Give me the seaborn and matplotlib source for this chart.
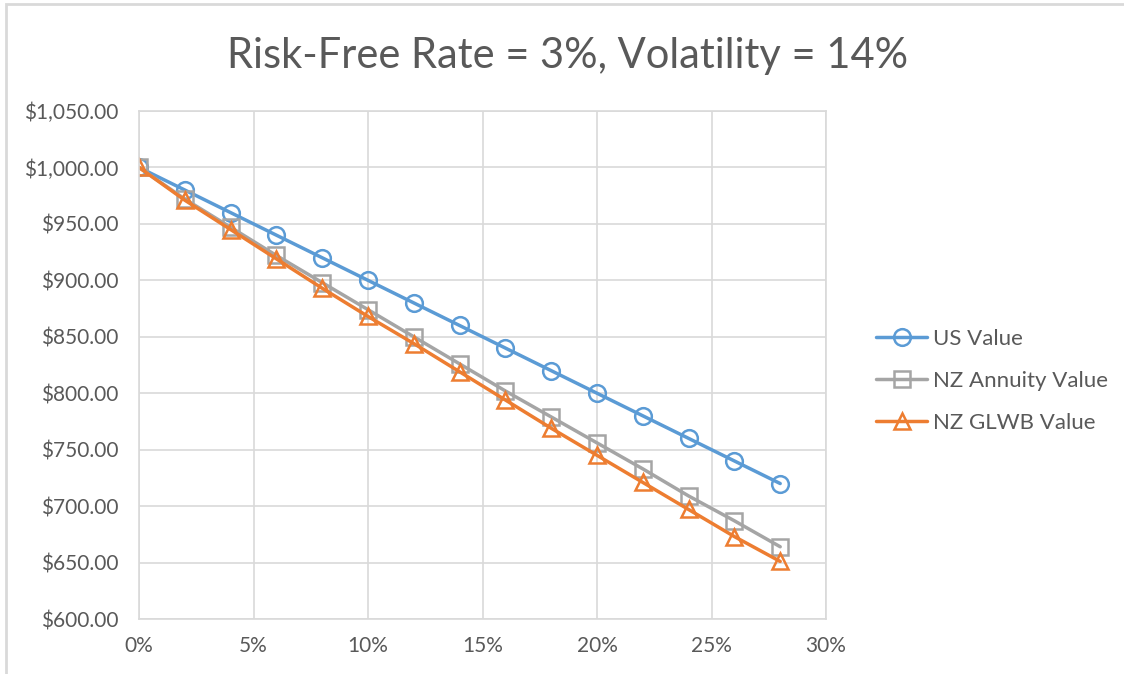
import numpy as np
import pandas as pd
import matplotlib.pyplot as plt
import seaborn as sns
from matplotlib.ticker import FuncFormatter, PercentFormatter
from matplotlib.patches import Rectangle

# drawdown rates (fraction) and values
rates = [0.00, 0.02, 0.04, 0.06, 0.08, 0.10, 0.12, 0.14, 0.16, 0.18, 0.20, 0.22, 0.24, 0.26, 0.28]
us_value = [1000, 980, 960, 940, 920, 900, 880, 860, 840, 820, 800, 780, 760, 740, 720]
nz_annuity = [1000, 972, 947, 922, 898, 874, 850, 826, 802, 779, 756, 733, 709, 687, 664]
nz_glwb = [1000, 971, 945, 919, 893, 868, 844, 819, 794, 769, 745, 721, 697, 673, 651]

series = ["US Value", "NZ Annuity Value", "NZ GLWB Value"]
colors = ["#5B9BD5", "#A5A5A5", "#ED7D31"]
markers = ["o", "s", "^"]

df = pd.DataFrame({"rate": rates, "US Value": us_value,
                   "NZ Annuity Value": nz_annuity, "NZ GLWB Value": nz_glwb})
long = df.melt(id_vars="rate", var_name="series", value_name="value")

sns.set_style("white")
plt.rcParams["font.family"] = ["Lato", "DejaVu Sans"]
txt = "#595959"

fig = plt.figure(figsize=(11.24, 6.74), dpi=100)
ax = fig.add_axes([139 / 1124, 1 - 619 / 674, (826 - 139) / 1124, (619 - 111) / 674])

for name, c, m in zip(series, colors, markers):
    sub = long[long["series"] == name]
    sns.lineplot(data=sub, x="rate", y="value", ax=ax, color=c, lw=2.5,
                 marker=m, markersize=12, markerfacecolor="none",
                 markeredgecolor=c, markeredgewidth=1.8, label=name)

ax.set_xlim(0, 0.30)
ax.set_ylim(600, 1050)
ax.set_xticks(np.arange(0, 0.31, 0.05))
ax.set_yticks(np.arange(600, 1051, 50))
ax.xaxis.set_major_formatter(PercentFormatter(1.0, decimals=0))
ax.yaxis.set_major_formatter(FuncFormatter(lambda v, p: f"${v:,.2f}"))
ax.grid(True, color="#D9D9D9", lw=1.2)
for s in ax.spines.values():
    s.set_color("#D9D9D9")
    s.set_linewidth(1.2)
ax.tick_params(axis="y", length=0, labelsize=15, colors=txt, pad=15)
ax.tick_params(axis="x", length=0, labelsize=15, colors=txt, pad=12)
ax.set_xlabel("")
ax.set_ylabel("")

handles, labels = ax.get_legend_handles_labels()
ax.legend(handles, labels, loc="center left", bbox_to_anchor=(876 / 1124, 1 - 381 / 674),
          bbox_transform=fig.transFigure, frameon=False, fontsize=16,
          labelcolor=txt, handlelength=2.3, handletextpad=0.25, labelspacing=1.0,
          borderpad=0, borderaxespad=0)

fig.text(568 / 1124, 1 - 56 / 674, "Risk-Free Rate = 3%, Volatility = 14%",
         ha="center", va="center", fontsize=30, color=txt)

fig.patches.append(Rectangle((6 / 1124, -0.1), 1.2, 1 - 4 / 674 + 0.1,
                             transform=fig.transFigure, fill=False,
                             edgecolor="#D9D9D9", lw=2))

fig.savefig("out.png", dpi=100)
